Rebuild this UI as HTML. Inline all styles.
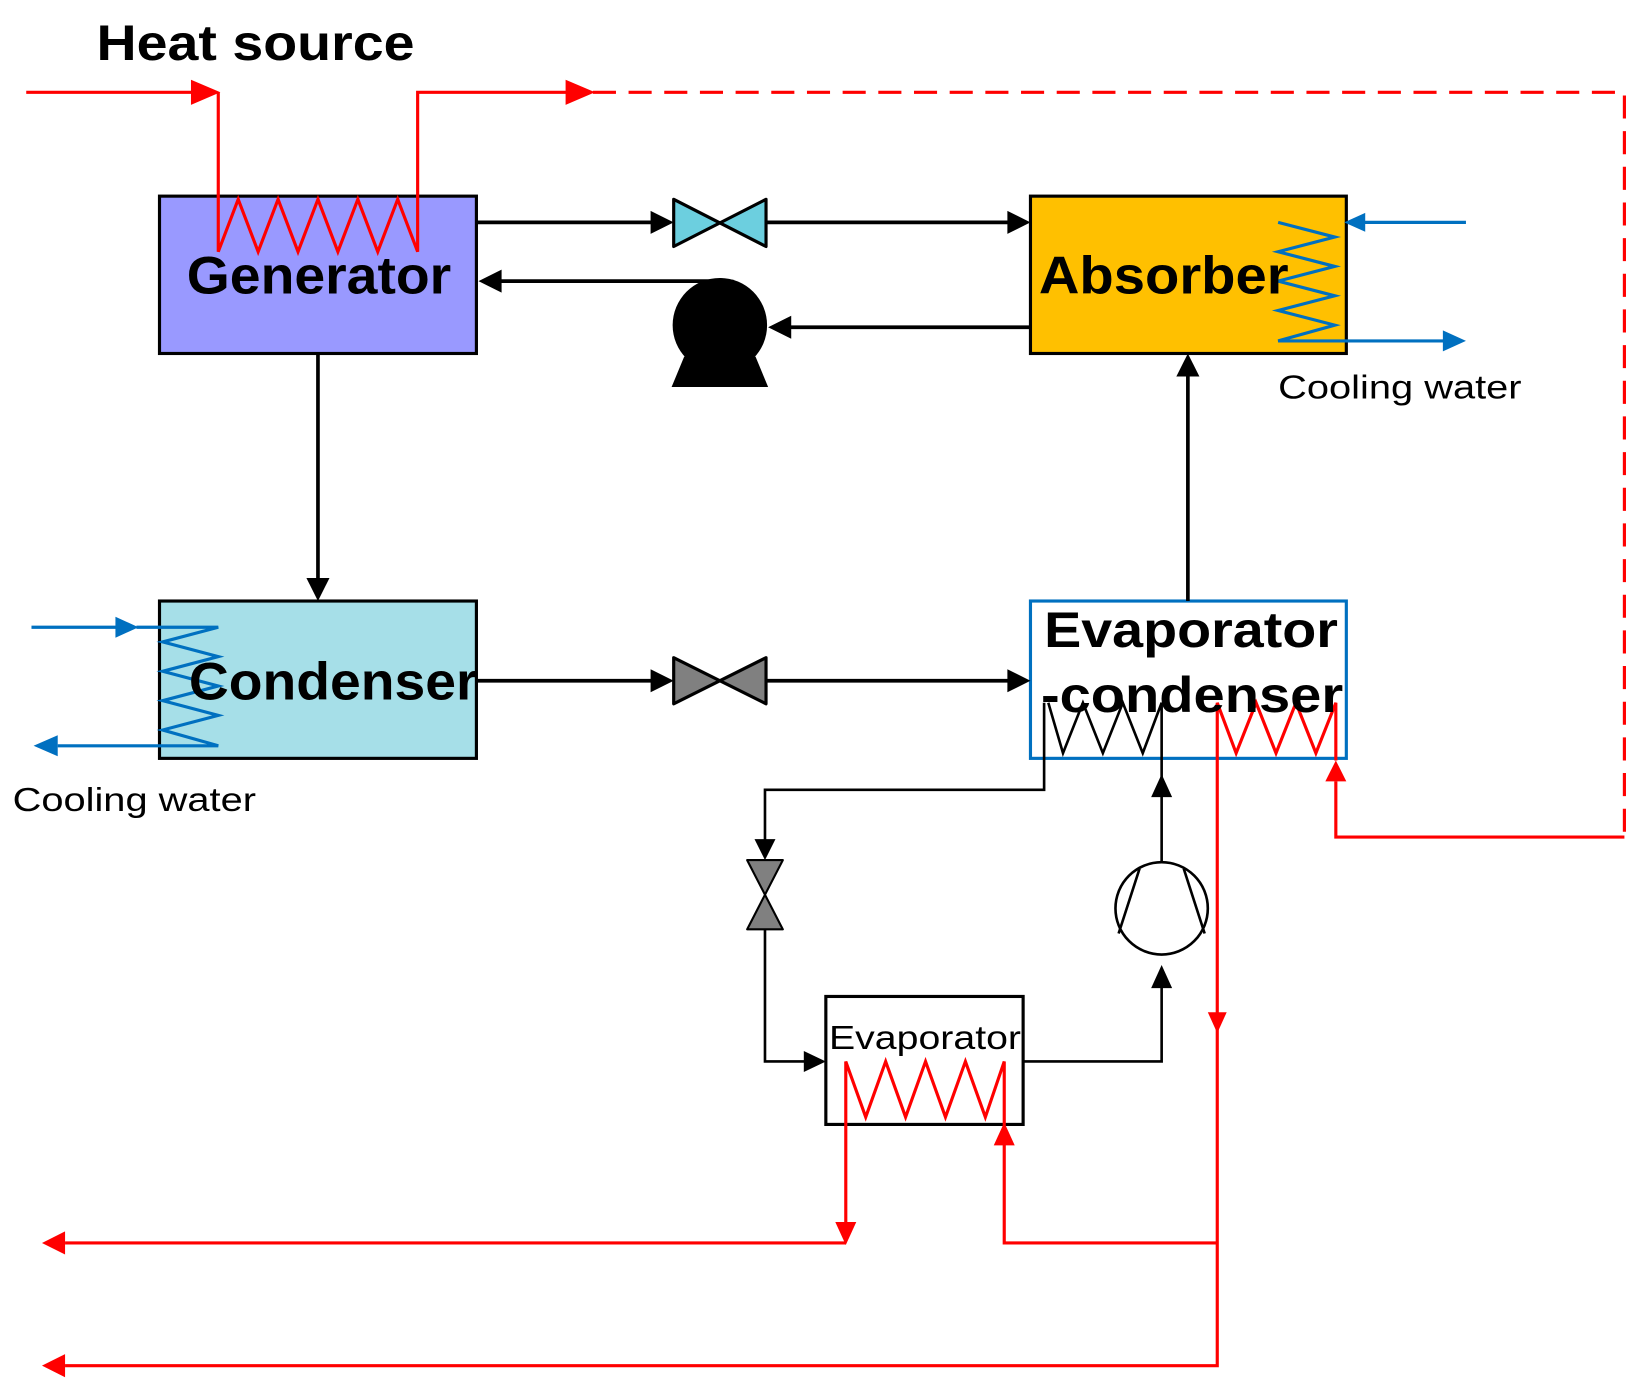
<!DOCTYPE html>
<html><head><meta charset="utf-8"><style>html,body{margin:0;padding:0;background:#fff}svg{display:block}</style></head>
<body>
<svg width="1637" height="1394" viewBox="0 0 1560 1329" preserveAspectRatio="none" xmlns="http://www.w3.org/2000/svg" font-family="Liberation Sans, Arial, sans-serif">
<text x="92" y="57" font-size="48" font-weight="bold" textLength="303" lengthAdjust="spacingAndGlyphs">Heat source</text>

<!-- boxes -->
<rect x="152" y="187" width="302" height="150" fill="#9999ff" stroke="#000" stroke-width="3"/>
<rect x="982" y="187" width="301" height="150" fill="#ffc000" stroke="#000" stroke-width="3"/>
<rect x="152" y="573" width="302" height="150" fill="#a6dfe8" stroke="#000" stroke-width="3"/>
<rect x="982" y="573" width="301" height="150" fill="#fff" stroke="#0070c0" stroke-width="3"/>
<rect x="787" y="950" width="188" height="122" fill="#fff" stroke="#000" stroke-width="3"/>

<!-- red heat source -->
<g stroke="#ff0000" stroke-width="3" fill="none">
<polyline points="25,88 190,88"/>
<polyline points="208,88 208,240 227,190 246,240 265,190 284,240 303,190 322,240 341,190 360,240 379,190 398,240 398,88 545,88"/>
<polyline points="565,88 1548,88 1548,798" stroke-dasharray="22,12"/>
<polyline points="1548,798 1273,798 1273,745"/>
<polyline points="1273,725 1273,670 1254,718 1235,670 1216,718 1197,670 1178,718 1160,670 1160,1302 62,1302"/>
<polyline points="806,1165 806,1012 825,1065 844,1012 863,1065 882,1012 901,1065 920,1012 939,1065 957,1012 957,1185 1160,1185"/>
<polyline points="806,1185 62,1185"/>
</g>
<g fill="#ff0000">
<path d="M210,88 L182,76 L182,100z"/>
<path d="M567,88 L539,76 L539,100z"/>
<path d="M1273,725 L1263,745 L1283,745z"/>
<path d="M1160,985 L1151,965 L1169,965z"/>
<path d="M40,1302 L62,1291 L62,1313z"/>
<path d="M40,1185 L62,1174 L62,1196z"/>
<path d="M806,1187 L796,1165 L816,1165z"/>
<path d="M957,1070 L947,1092 L967,1092z"/>
</g>

<!-- blue cooling water -->
<g stroke="#0070c0" stroke-width="3" fill="none">
<polyline points="1397,212 1300,212"/>
<polyline points="1218,212 1272,226 1218,240 1272,254 1218,268 1272,282 1218,296 1272,310 1218,325 1378,325"/>
<polyline points="30,598 112,598"/>
<polyline points="130,598 208,598 155,612 208,626 155,640 208,654 155,668 208,682 155,696 208,711 55,711"/>
</g>
<g fill="#0070c0">
<path d="M1281,212 L1301,203 L1301,221z"/>
<path d="M1397,325 L1375,315 L1375,335z"/>
<path d="M132,598 L110,588 L110,608z"/>
<path d="M32,711 L55,701 L55,721z"/>
</g>

<!-- black lines -->
<g stroke="#000" stroke-width="3.5" fill="none">
<line x1="454" y1="212" x2="622" y2="212"/>
<line x1="730" y1="212" x2="962" y2="212"/>
<line x1="982" y1="312" x2="752" y2="312"/>
<line x1="687" y1="268" x2="476" y2="268"/>
<line x1="303" y1="337" x2="303" y2="553"/>
<line x1="454" y1="649" x2="622" y2="649"/>
<line x1="730" y1="649" x2="962" y2="649"/>
<line x1="1132" y1="573" x2="1132" y2="358"/>
</g>
<g fill="#000">
<path d="M642,212 L620,201 L620,223z"/>
<path d="M982,212 L960,201 L960,223z"/>
<path d="M732,312 L754,301 L754,323z"/>
<path d="M456,268 L478,257 L478,279z"/>
<path d="M303,573 L292,551 L314,551z"/>
<path d="M642,649 L620,638 L620,660z"/>
<path d="M982,649 L960,638 L960,660z"/>
<path d="M1132,337 L1121,359 L1143,359z"/>
</g>
<!-- valves -->
<path d="M642,190 L730,235 L730,190 L642,235z" fill="#6ccfdf" stroke="#000" stroke-width="3" stroke-linejoin="round"/>
<path d="M642,627 L730,671 L730,627 L642,671z" fill="#808080" stroke="#000" stroke-width="3" stroke-linejoin="round"/>
<path d="M712,820 L746,886 L712,886 L746,820z" fill="#808080" stroke="#000" stroke-width="2" stroke-linejoin="round"/>
<!-- pump -->
<circle cx="686" cy="310" r="45" fill="#000"/>
<path d="M686,265 L700,267 L650,285z" fill="#000"/>
<path d="M652,340 L720,340 L732,369 L640,369z" fill="#000"/>

<!-- refrigeration loop -->
<g stroke="#000" stroke-width="2.5" fill="none">
<polyline points="995,670 995,753 729,753 729,802"/>
<polyline points="999,670 1013,718 1032,670 1051,718 1070,670 1089,718 1107,670 1107,758"/>
<polyline points="729,886 729,1012 768,1012"/>
<polyline points="975,1012 1107,1012 1107,940"/>
<line x1="1107" y1="822" x2="1107" y2="755"/>
<circle cx="1107" cy="866" r="44"/>
<line x1="1086" y1="828" x2="1066" y2="890"/>
<line x1="1128" y1="828" x2="1148" y2="890"/>
</g>
<g fill="#000">
<path d="M729,820 L719,800 L739,800z"/>
<path d="M787,1012 L766,1002 L766,1022z"/>
<path d="M1107,738 L1097,760 L1117,760z"/>
<path d="M1107,920 L1097,942 L1117,942z"/>
</g>

<!-- labels -->
<text x="178" y="280" font-size="50" font-weight="bold" textLength="252" lengthAdjust="spacingAndGlyphs">Generator</text>
<text x="990" y="280" font-size="50" font-weight="bold" textLength="238" lengthAdjust="spacingAndGlyphs">Absorber</text>
<text x="180" y="667" font-size="50" font-weight="bold" textLength="275" lengthAdjust="spacingAndGlyphs">Condenser</text>
<text x="995" y="617" font-size="48" font-weight="bold" textLength="280" lengthAdjust="spacingAndGlyphs">Evaporator</text>
<text x="992" y="679" font-size="48" font-weight="bold" textLength="288" lengthAdjust="spacingAndGlyphs">-condenser</text>
<text x="790" y="1000" font-size="32" textLength="183" lengthAdjust="spacingAndGlyphs">Evaporator</text>
<text x="1218" y="380" font-size="32" textLength="232" lengthAdjust="spacingAndGlyphs">Cooling water</text>
<text x="12" y="773" font-size="32" textLength="232" lengthAdjust="spacingAndGlyphs">Cooling water</text>
</svg>
</body></html>
